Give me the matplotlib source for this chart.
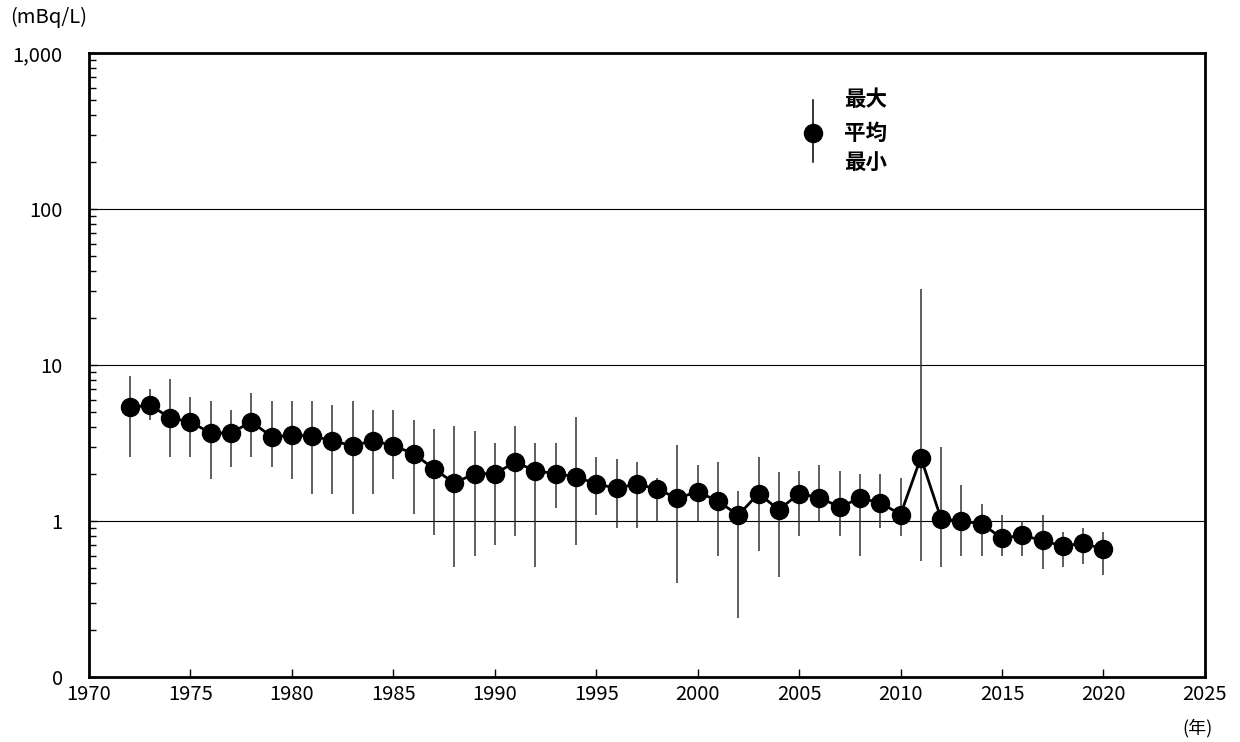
import numpy as np
import matplotlib
matplotlib.use("Agg")
import matplotlib.pyplot as plt
from matplotlib.ticker import FixedLocator, LogLocator, FuncFormatter, NullFormatter

plt.rcParams['font.family'] = ['Noto Sans CJK JP', 'DejaVu Sans']

years = list(range(1972, 2021))
avg = [5.36, 5.52, 4.59, 4.31, 3.66, 3.66, 4.33, 3.47, 3.54, 3.52,
       3.26, 3.04, 3.27, 3.04, 2.70, 2.16, 1.75, 2.01, 2.01, 2.38,
       2.10, 2.01, 1.92, 1.73, 1.62, 1.73, 1.60, 1.40, 1.54, 1.34,
       1.09, 1.50, 1.18, 1.50, 1.41, 1.23, 1.40, 1.31, 1.10, 2.55,
       1.03, 1.00, 0.96, 0.775, 0.81, 0.75, 0.69, 0.72, 0.66]
vmax = [8.5, 6.98, 8.1, 6.26, 5.88, 5.15, 6.64, 5.88, 5.88, 5.88,
        5.54, 5.88, 5.15, 5.15, 4.42, 3.89, 4.06, 3.78, 3.18, 4.06,
        3.18, 3.18, 4.66, 2.58, 2.50, 2.38, 1.90, 3.07, 2.29, 2.38,
        1.56, 2.56, 2.07, 2.09, 2.29, 2.09, 2.0, 2.0, 1.90, 30.6,
        2.99, 1.69, 1.29, 1.10, 1.0, 1.10, 0.85, 0.90, 0.85]
vmin = [2.58, 4.44, 2.58, 2.58, 1.85, 2.22, 2.58, 2.22, 1.85, 1.48,
        1.48, 1.11, 1.48, 1.85, 1.11, 0.81, 0.505, 0.60, 0.70, 0.805,
        0.505, 1.21, 0.70, 1.10, 0.90, 0.90, 1.0, 0.40, 1.0, 0.60,
        0.24, 0.64, 0.435, 0.80, 1.0, 0.80, 0.60, 0.90, 0.80, 0.557,
        0.505, 0.60, 0.60, 0.60, 0.60, 0.49, 0.505, 0.53, 0.45]

x_ticks = list(range(1970, 2030, 5))
y_ticks = [0.1, 1, 10, 100, 1000]
y_labels = ['0', '1', '10', '100', '1,000']

fig = plt.figure(figsize=(12.4, 7.42), dpi=100)
ax = fig.add_axes([0.0718, 0.0876, 0.8999, 0.8410])

x = np.array(years)
a = np.array(avg)
lo = a - np.array(vmin)
hi = np.array(vmax) - a

ax.errorbar(x, a, yerr=[lo, hi], fmt='none', ecolor='#333333', elinewidth=1.1, capsize=0, zorder=2)
ax.plot(x, a, color='black', lw=2, marker='o', markersize=13, zorder=3)

ax.set_yscale('log')
ax.set_ylim(0.1, 1000)
ax.set_xlim(1970, 2025)

ax.yaxis.set_major_locator(FixedLocator(y_ticks))
ax.yaxis.set_major_formatter(FuncFormatter(lambda v, p: y_labels[y_ticks.index(v)] if v in y_ticks else ''))
ax.yaxis.set_minor_locator(LogLocator(base=10, subs=np.arange(2, 10)))
ax.yaxis.set_minor_formatter(NullFormatter())
ax.xaxis.set_major_locator(FixedLocator(x_ticks))

ax.tick_params(axis='both', which='major', direction='in', length=6, width=1, labelsize=14.5)
ax.tick_params(axis='y', which='minor', direction='in', length=5, width=1)
ax.tick_params(axis='x', pad=5)
ax.tick_params(axis='y', pad=19)

for s in ax.spines.values():
    s.set_linewidth(2)

for v in [1, 10, 100]:
    ax.axhline(v, color='black', lw=0.8, zorder=1)

# legend key
ax.plot([0.6487, 0.6487], [0.8253, 0.9247], transform=ax.transAxes, color='black', lw=1.1, clip_on=False)
ax.plot([0.6487], [0.8718], transform=ax.transAxes, marker='o', markersize=13, color='black', clip_on=False)
for yy, t in [(0.9247, '最大'), (0.8718, '平均'), (0.8253, '最小')]:
    ax.text(0.677, yy, t, transform=ax.transAxes, fontsize=15.5, va='center', ha='left', fontweight='bold')

fig.text(10 / 1240, 1 - 17 / 742, '(mBq/L)', fontsize=14.5, va='center', ha='left')
fig.text(1197 / 1240, 1 - 728 / 742, '(年)', fontsize=13, va='center', ha='center')

fig.savefig('out.png', dpi=100)
